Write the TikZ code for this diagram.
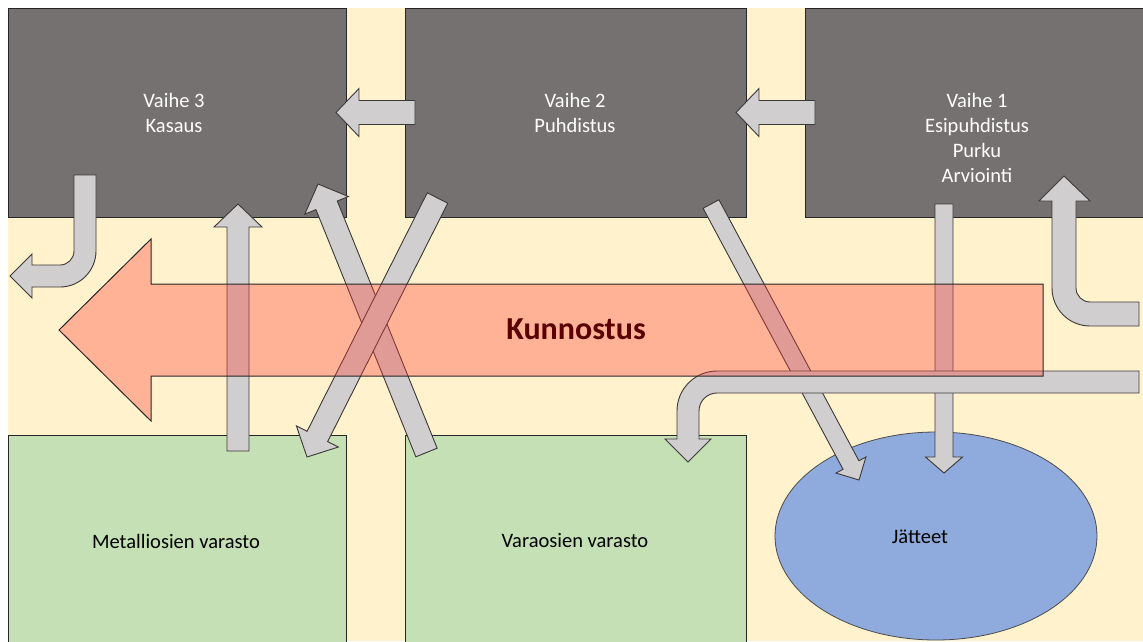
\documentclass[tikz,border=0pt]{standalone}
\usepackage{fontspec}
\setmainfont{Carlito}
\usetikzlibrary{calc,shapes.geometric}
\definecolor{cream}{HTML}{FFF2CC}
\definecolor{boxgray}{HTML}{767171}
\definecolor{boxgreen}{HTML}{C5E0B4}
\definecolor{blobblue}{HTML}{8FAADC}
\definecolor{arrowgray}{HTML}{D0CECE}
\definecolor{edgedark}{HTML}{3B3838}
\definecolor{kred}{RGB}{255,60,50}
\definecolor{ktext}{RGB}{90,0,0}
\tikzset{
  graybox/.style={draw=black!85, line width=0.8pt, fill=boxgray, inner sep=0pt},
  greenbox/.style={draw=black!85, line width=0.8pt, fill=boxgreen, inner sep=0pt},
  blob/.style={ellipse, draw=black!70, line width=0.8pt, fill=blobblue, inner sep=0pt},
  grayarrow/.style={draw=edgedark, line width=0.9pt, fill=arrowgray, line join=miter},
  bigarrow/.style={draw=black!85, line width=1pt, fill=kred, fill opacity=0.35},
  wlabel/.style={text=white, font=\fontsize{20.5}{25}\selectfont, align=center},
  blabel/.style={text=black, font=\fontsize{20.5}{25}\selectfont, align=center},
}
\newcommand\blockarrow[5]{%
  \coordinate (ba-h) at ($(#2)!#5!(#1)$);
  \draw[grayarrow] ($(#1)!#3!90:(#2)$) -- ($(ba-h)!#3!90:(#2)$) -- ($(ba-h)!#4!90:(#2)$) -- (#2)
    -- ($(ba-h)!#4!-90:(#2)$) -- ($(ba-h)!#3!-90:(#2)$) -- ($(#1)!#3!-90:(#2)$) -- cycle;
}
\begin{document}
\begin{tikzpicture}[x=1pt,y=-1pt]
\useasboundingbox (0,0) rectangle (1143,641);
\fill[white] (0,0) rectangle (1143,641);
\fill[cream] (8,8) rectangle (1143,641);
% boxes
\node[graybox, minimum width=338pt, minimum height=209pt] (v3) at (177,112.5) {};
\node[graybox, minimum width=341pt, minimum height=209pt] (v2) at (575.5,112.5) {};
\node[graybox, minimum width=345pt, minimum height=209pt] (v1) at (977.5,112.5) {};
\node[greenbox, minimum width=338pt, minimum height=215pt] (gm) at (177,542.5) {};
\node[greenbox, minimum width=341pt, minimum height=215pt] (gv) at (575.5,542.5) {};
\node[blob, minimum width=322pt, minimum height=208pt] (jt) at (936,536) {};
% arrow end points
\coordinate (xa-s) at (426.5,452.5); \coordinate (xa-e) at (318,184);
\coordinate (xb-s) at (437.5,198);  \coordinate (xb-e) at (307,457);
\coordinate (up-s) at (238,451);    \coordinate (up-e) at (238,204);
\coordinate (dg-s) at (711,204);    \coordinate (dg-e) at (859,480);
\coordinate (dn-s) at (944,204);    \coordinate (dn-e) at (944,473);
\coordinate (l1-s) at (415,112.5);  \coordinate (l1-e) at (336,112.5);
\coordinate (l2-s) at (815,112.5);  \coordinate (l2-e) at (736,112.5);
% straight gray arrows
\blockarrow{xa-s}{xa-e}{11.5pt}{23.5pt}{23pt}
\blockarrow{xb-s}{xb-e}{11.5pt}{23.5pt}{23pt}
\blockarrow{up-s}{up-e}{11pt}{24pt}{23pt}
\blockarrow{dg-s}{dg-e}{9pt}{17pt}{17pt}
\blockarrow{dn-s}{dn-e}{9pt}{18.5pt}{16pt}
% bent arrow into Varaosien varasto
\draw[grayarrow] (1139,371) -- (717,371) arc[start angle=270, end angle=180, radius=40]
  -- (677,439) -- (665,439) -- (688,462) -- (711,439) -- (699,439) -- (699,411)
  arc[start angle=180, end angle=270, radius=18] -- (1139,393) -- cycle;
\blockarrow{l1-s}{l1-e}{12pt}{24pt}{23pt}
\blockarrow{l2-s}{l2-e}{12pt}{24pt}{23pt}
% J arrow leaving Vaihe 3
\draw[grayarrow] (74,175) -- (96,175) -- (96,251) arc[start angle=0, end angle=90, radius=36]
  -- (32,287) -- (32,298) -- (10,276) -- (32,254) -- (32,265) -- (60,265)
  arc[start angle=90, end angle=0, radius=14] -- cycle;
% arrow entering Vaihe 1
\draw[grayarrow] (1139,302) -- (1090,302) arc[start angle=90, end angle=180, radius=14]
  -- (1076,201) -- (1090,201) -- (1064,176) -- (1039,201) -- (1052,201) -- (1052,288)
  arc[start angle=180, end angle=90, radius=38] -- (1139,326) -- cycle;
% big arrow
\draw[bigarrow] (1043,284) -- (151,284) -- (151,239) -- (59,330) -- (151,421) -- (151,376) -- (1043,376) -- cycle;
\node[text=ktext, font=\fontsize{32}{38}\selectfont\bfseries] (tk) at (576,329) {Kunnostus};
% labels
\node[wlabel] (t3) at (174,113) {Vaihe 3\\Kasaus};
\node[wlabel] (t2) at (575,113) {Vaihe 2\\Puhdistus};
\node[wlabel] (t1) at (977,138) {Vaihe 1\\Esipuhdistus\\Purku\\Arviointi};
\node[blabel] (tm) at (176,541) {Metalliosien varasto};
\node[blabel] (tv) at (575,541) {Varaosien varasto};
\node[blabel] (tj) at (920,537) {Jätteet};
\end{tikzpicture}
\end{document}
